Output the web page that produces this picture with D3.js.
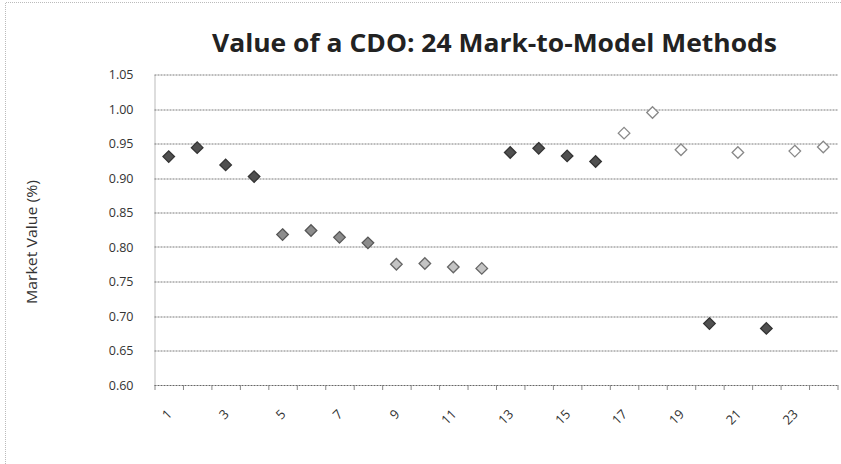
<!DOCTYPE html>
<html>
<head>
<meta charset="utf-8">
<script src="https://cdn.jsdelivr.net/npm/d3@7"></script>
<style>
  html, body { margin: 0; padding: 0; background: #fff; }
  svg { display: block; }
</style>
</head>
<body>
<div id="chart"></div>
<script>
// ---- data ----
const methods = d3.range(1, 25);
const values = [0.931, 0.944, 0.919, 0.902, 0.818, 0.824, 0.814, 0.806,
                0.775, 0.776, 0.771, 0.769, 0.937, 0.943, 0.932, 0.924,
                0.965, 0.995, 0.941, 0.689, 0.937, 0.682, 0.939, 0.945];
// marker group for each method (visual style class)
const groups = ["dark","dark","dark","dark","mid","mid","mid","mid",
                "light","light","light","light","dark","dark","dark","dark",
                "open","open","open","dark","open","dark","open","open"];
const yTicks = [0.60, 0.65, 0.70, 0.75, 0.80, 0.85, 0.90, 0.95, 1.00, 1.05];
const xTickLabels = methods.filter(d => d % 2 === 1);
const title = "Value of a CDO: 24 Mark-to-Model Methods";
const yTitle = "Market Value (%)";

// ---- layout ----
const W = 841, H = 464;
const margin = {left: 154.5, right: 3.5, top: 74.5, bottom: 79};
const iw = W - margin.left - margin.right;
const ih = H - margin.top - margin.bottom;

const svg = d3.select("#chart").append("svg").attr("width", W).attr("height", H);

// chart border (left & top visible in reference)
svg.append("path").attr("d", `M5.5,${H} V2.5 H${W}`)
  .attr("fill", "none").attr("stroke", "#bbb").attr("stroke-width", 1)
  .attr("stroke-dasharray", "1,1");

const x = d3.scaleBand().domain(methods).range([0, iw]).padding(0);
const y = d3.scaleLinear().domain([0.60, 1.05]).range([ih, 0]);

const g = svg.append("g").attr("transform", `translate(${margin.left},${margin.top})`);

// gridlines
g.append("g")
  .selectAll("line").data(yTicks.filter(t => t > 0.6)).join("line")
  .attr("x1", 0).attr("x2", iw)
  .attr("y1", d => Math.round(y(d)) + 0.5).attr("y2", d => Math.round(y(d)) + 0.5)
  .attr("stroke", "#7a7a7a").attr("stroke-width", 1).attr("stroke-dasharray", "2,1");

// y axis
const yAxis = g.append("g")
  .call(d3.axisLeft(y).tickValues(yTicks).tickFormat(d3.format(".2f")).tickSize(0).tickPadding(21));
yAxis.select(".domain").attr("stroke", "#777").attr("stroke-dasharray", "1,1");
yAxis.selectAll("text")
  .attr("font-family", "'Open Sans', sans-serif").attr("font-size", 12.5).attr("fill", "#333");

// x axis
const xAxisG = g.append("g").attr("transform", `translate(0,${ih})`);
xAxisG.append("line").attr("x1", 0).attr("x2", iw).attr("y1", 0.5).attr("y2", 0.5)
  .attr("stroke", "#666").attr("stroke-dasharray", "2,1");
xAxisG.selectAll("line.tick").data(d3.range(0, methods.length + 1)).join("line")
  .attr("class", "tick")
  .attr("x1", i => i * x.step() + 0.5).attr("x2", i => i * x.step() + 0.5)
  .attr("y1", 0).attr("y2", 5).attr("stroke", "#888");
xAxisG.selectAll("text").data(xTickLabels).join("text")
  .attr("transform", d => `translate(${x(d) + x.bandwidth() / 2 + 4},${30}) rotate(-45)`)
  .attr("text-anchor", "end")
  .attr("font-family", "'Open Sans', sans-serif").attr("font-size", 13).attr("fill", "#333")
  .text(d => d);

// markers
const styles = {
  dark:  {fill: "#505050", stroke: "#333"},
  mid:   {fill: "#8c8c8c", stroke: "#555"},
  light: {fill: "#c4c4c4", stroke: "#666"},
  open:  {fill: "#fff", stroke: "#888"}
};
const diamond = d3.symbol().type(d3.symbolDiamond2).size(85);
g.selectAll("path.pt").data(methods).join("path")
  .attr("class", "pt")
  .attr("d", diamond)
  .attr("transform", (d, i) => `translate(${x(d) + x.bandwidth() / 2},${y(values[i])})`)
  .attr("fill", (d, i) => styles[groups[i]].fill)
  .attr("stroke", (d, i) => styles[groups[i]].stroke)
  .attr("stroke-width", 1.3);

// title
svg.append("text")
  .attr("x", 494.5).attr("y", 52)
  .attr("text-anchor", "middle")
  .attr("font-family", "'Open Sans', sans-serif").attr("font-weight", 700)
  .attr("font-size", 25).attr("fill", "#222")
  .attr("textLength", 565).attr("lengthAdjust", "spacingAndGlyphs")
  .text(title);

// y title
svg.append("text")
  .attr("transform", `translate(37,242) rotate(-90)`)
  .attr("text-anchor", "middle")
  .attr("font-family", "'Open Sans', sans-serif")
  .attr("font-size", 14).attr("fill", "#333")
  .attr("textLength", 124).attr("lengthAdjust", "spacingAndGlyphs")
  .text(yTitle);
</script>
</body>
</html>
